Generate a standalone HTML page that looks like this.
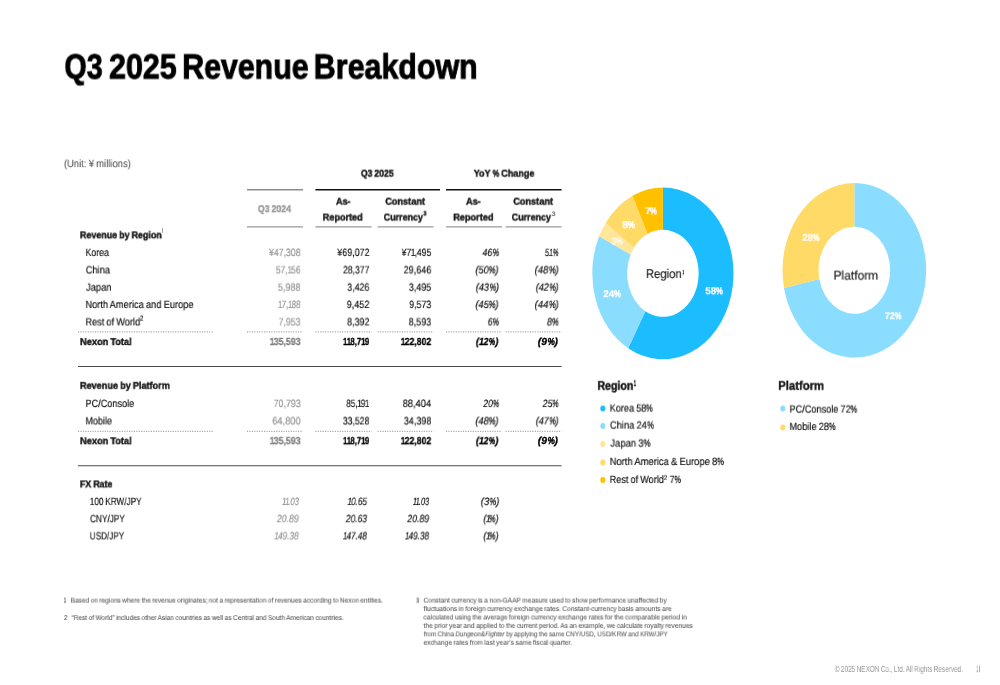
<!DOCTYPE html>
<html lang="en">
<head>
<meta charset="utf-8">
<title>Q3 2025 Revenue Breakdown</title>
<style>
html,body{margin:0;padding:0;background:#fff}
body{width:1000px;height:685px;position:relative;overflow:hidden;font-family:"Liberation Sans", sans-serif}
#slide{position:absolute;left:0;top:0;width:1000px;height:685px;background:#fff;overflow:hidden}
#slide>span{position:absolute;white-space:nowrap;transform-origin:0 0;display:block;will-change:transform;text-rendering:geometricPrecision;word-spacing:-0.05em}
#slide>span i{font-style:italic}
#slide>span .n{margin:0 -0.12em 0 -0.05em}
#slide>span .nb{margin:0 -0.09em 0 -0.02em}
#slide>span .nbi{margin:0 -0.06em 0 0.03em}
#slide>span .p{display:inline-block;transform:scaleX(0.8);transform-origin:0 50%;margin:0 -0.178em 0 -0.04em;-webkit-text-stroke-width:.3px}
#slide>span .pb{-webkit-text-stroke-width:.45px}
#gfx{position:absolute;left:0;top:0;display:block}
</style>
</head>
<body>
<div id="slide">
<svg id="gfx" width="1000" height="685" viewBox="0 0 1000 685" aria-hidden="true"><g transform="translate(662.9 273.35) scale(0.82141 1)"><path fill="#1cbdff" d="M0.000 -85.950A85.95 85.95 0 1 1 -42.261 74.843L-21.389 37.878A43.5 43.5 0 1 0 0.000 -43.500Z"/><path fill="#8addff" d="M-42.261 74.843A85.95 85.95 0 0 1 -77.576 -37.004L-39.262 -18.728A43.5 43.5 0 0 0 -21.389 37.878Z"/><path fill="#ffe699" d="M-77.576 -37.004A85.95 85.95 0 0 1 -69.632 -50.387L-35.241 -25.501A43.5 43.5 0 0 0 -39.262 -18.728Z"/><path fill="#ffda66" d="M-69.632 -50.387A85.95 85.95 0 0 1 -36.932 -77.611L-18.691 -39.280A43.5 43.5 0 0 0 -35.241 -25.501Z"/><path fill="#ffc000" d="M-36.932 -77.611A85.95 85.95 0 0 1 -0.000 -85.950L-0.000 -43.500A43.5 43.5 0 0 0 -18.691 -39.280Z"/></g><g transform="translate(854.35 270.3) scale(0.82245 1)"><path fill="#8addff" d="M0.000 -87.300A87.3 87.3 0 1 1 -85.496 17.658L-42.601 8.798A43.5 43.5 0 1 0 0.000 -43.500Z"/><path fill="#ffda66" d="M-85.496 17.658A87.3 87.3 0 0 1 -0.000 -87.300L-0.000 -43.500A43.5 43.5 0 0 0 -42.601 8.798Z"/></g><line x1="247.0" y1="189.7" x2="303.0" y2="189.7" stroke="#8c8c8c" stroke-width="1.5"/><line x1="315.4" y1="189.7" x2="440.0" y2="189.7" stroke="#111" stroke-width="1.5"/><line x1="446.0" y1="189.7" x2="561.6" y2="189.7" stroke="#111" stroke-width="1.5"/><line x1="247.0" y1="226.85" x2="303.0" y2="226.85" stroke="#999" stroke-width="1.2"/><line x1="315.4" y1="226.85" x2="371.6" y2="226.85" stroke="#999" stroke-width="1.2"/><line x1="377.6" y1="226.85" x2="433.6" y2="226.85" stroke="#999" stroke-width="1.2"/><line x1="446.0" y1="226.85" x2="502.0" y2="226.85" stroke="#999" stroke-width="1.2"/><line x1="505.6" y1="226.85" x2="561.6" y2="226.85" stroke="#999" stroke-width="1.2"/><line x1="78.0" y1="331.95" x2="213.0" y2="331.95" stroke="#a4a4a4" stroke-width="1.25" stroke-dasharray="1.1 1.33"/><line x1="247.0" y1="331.95" x2="303.0" y2="331.95" stroke="#a4a4a4" stroke-width="1.25" stroke-dasharray="1.1 1.33"/><line x1="315.4" y1="331.95" x2="371.6" y2="331.95" stroke="#a4a4a4" stroke-width="1.25" stroke-dasharray="1.1 1.33"/><line x1="377.6" y1="331.95" x2="433.6" y2="331.95" stroke="#a4a4a4" stroke-width="1.25" stroke-dasharray="1.1 1.33"/><line x1="446.0" y1="331.95" x2="502.0" y2="331.95" stroke="#a4a4a4" stroke-width="1.25" stroke-dasharray="1.1 1.33"/><line x1="505.6" y1="331.95" x2="561.6" y2="331.95" stroke="#a4a4a4" stroke-width="1.25" stroke-dasharray="1.1 1.33"/><line x1="78.0" y1="431.45" x2="213.0" y2="431.45" stroke="#a4a4a4" stroke-width="1.25" stroke-dasharray="1.1 1.33"/><line x1="247.0" y1="431.45" x2="303.0" y2="431.45" stroke="#a4a4a4" stroke-width="1.25" stroke-dasharray="1.1 1.33"/><line x1="315.4" y1="431.45" x2="371.6" y2="431.45" stroke="#a4a4a4" stroke-width="1.25" stroke-dasharray="1.1 1.33"/><line x1="377.6" y1="431.45" x2="433.6" y2="431.45" stroke="#a4a4a4" stroke-width="1.25" stroke-dasharray="1.1 1.33"/><line x1="446.0" y1="431.45" x2="502.0" y2="431.45" stroke="#a4a4a4" stroke-width="1.25" stroke-dasharray="1.1 1.33"/><line x1="505.6" y1="431.45" x2="561.6" y2="431.45" stroke="#a4a4a4" stroke-width="1.25" stroke-dasharray="1.1 1.33"/><line x1="78.0" y1="366.55" x2="561.6" y2="366.55" stroke="#4a4a4a" stroke-width="1.1"/><line x1="78.0" y1="465.7" x2="561.6" y2="465.7" stroke="#4a4a4a" stroke-width="1.1"/><ellipse cx="602.8" cy="408.4" rx="2.5" ry="3.0" fill="#1cbdff"/><ellipse cx="602.8" cy="425.9" rx="2.5" ry="3.0" fill="#8addff"/><ellipse cx="602.8" cy="444.1" rx="2.5" ry="3.0" fill="#ffe699"/><ellipse cx="602.8" cy="462.4" rx="2.5" ry="3.0" fill="#ffda66"/><ellipse cx="602.8" cy="480.0" rx="2.5" ry="3.0" fill="#ffc000"/><ellipse cx="782.8" cy="408.4" rx="2.5" ry="3.0" fill="#8addff"/><ellipse cx="782.8" cy="427.4" rx="2.5" ry="3.0" fill="#ffda66"/></svg>

<span style="left:64px;top:50px;font-size:34.9px;line-height:34.9px;color:#000;font-weight:700;-webkit-text-stroke:0.9px #000;text-indent:0.59px;transform:translate3d(0,0.46px,0) scaleX(0.8201)">Q3</span>
<span style="left:109px;top:50px;font-size:34.9px;line-height:34.9px;color:#000;font-weight:700;-webkit-text-stroke:0.9px #000;text-indent:0.05px;transform:translate3d(0,0.46px,0) scaleX(0.8721)">2025</span>
<span style="left:182px;top:50px;font-size:34.9px;line-height:34.9px;color:#000;font-weight:700;-webkit-text-stroke:0.9px #000;text-indent:0.19px;transform:translate3d(0,0.46px,0) scaleX(0.8694)">Revenue</span>
<span style="left:313px;top:50px;font-size:34.9px;line-height:34.9px;color:#000;font-weight:700;-webkit-text-stroke:0.9px #000;text-indent:0.87px;transform:translate3d(0,0.46px,0) scaleX(0.8722)">Breakdown</span>
<span style="left:63px;top:159px;font-size:10.6px;line-height:10.6px;color:#505050;-webkit-text-stroke:0.06px #505050;text-indent:0.93px;transform:translate3d(0,0.10px,0) scaleX(0.8952)">(Unit: ¥ millions)</span>
<span style="left:257px;top:205px;font-size:9.9px;line-height:9.9px;color:#999;font-weight:700;-webkit-text-stroke:0.4px #999;text-indent:1.11px;transform:translate3d(0,0.07px,0) scaleX(0.8832)">Q3 2024</span>
<span style="left:360px;top:169px;font-size:9.9px;line-height:9.9px;color:#111;font-weight:700;-webkit-text-stroke:0.4px #111;text-indent:0.88px;transform:translate3d(0,0.57px,0) scaleX(0.8811)">Q3 2025</span>
<span style="left:473px;top:169px;font-size:9.9px;line-height:9.9px;color:#111;font-weight:700;-webkit-text-stroke:0.4px #111;text-indent:0.66px;transform:translate3d(0,0.57px,0) scaleX(0.9160)">YoY <span class="p pb">%</span> Change</span>
<span style="left:336px;top:197px;font-size:9.9px;line-height:9.9px;color:#111;font-weight:700;-webkit-text-stroke:0.4px #111;text-indent:0.00px;transform:translate3d(0,0.57px,0) scaleX(0.9143)">As-</span>
<span style="left:322px;top:213px;font-size:9.9px;line-height:9.9px;color:#111;font-weight:700;-webkit-text-stroke:0.4px #111;text-indent:0.80px;transform:translate3d(0,0.47px,0) scaleX(0.9224)">Reported</span>
<span style="left:385px;top:197px;font-size:9.9px;line-height:9.9px;color:#111;font-weight:700;-webkit-text-stroke:0.4px #111;text-indent:0.18px;transform:translate3d(0,0.57px,0) scaleX(0.9318)">Constant</span>
<span style="left:383px;top:213px;font-size:9.9px;line-height:9.9px;color:#111;font-weight:700;-webkit-text-stroke:0.4px #111;text-indent:0.86px;transform:translate3d(0,0.47px,0) scaleX(0.9017)">Currency</span>
<span style="left:423px;top:211px;font-size:6.3px;line-height:6.3px;color:#111;font-weight:700;-webkit-text-stroke:0.4px #111;text-indent:0.58px;transform:translate3d(0,0.38px,0) scaleX(0.8571)">3</span>
<span style="left:466px;top:197px;font-size:9.9px;line-height:9.9px;color:#111;font-weight:700;-webkit-text-stroke:0.4px #111;text-indent:0.00px;transform:translate3d(0,0.57px,0) scaleX(0.9270)">As-</span>
<span style="left:453px;top:213px;font-size:9.9px;line-height:9.9px;color:#111;font-weight:700;-webkit-text-stroke:0.4px #111;text-indent:0.14px;transform:translate3d(0,0.47px,0) scaleX(0.9318)">Reported</span>
<span style="left:513px;top:197px;font-size:9.9px;line-height:9.9px;color:#111;font-weight:700;-webkit-text-stroke:0.4px #111;text-indent:0.18px;transform:translate3d(0,0.57px,0) scaleX(0.9318)">Constant</span>
<span style="left:511px;top:213px;font-size:9.9px;line-height:9.9px;color:#111;font-weight:700;-webkit-text-stroke:0.4px #111;text-indent:0.86px;transform:translate3d(0,0.47px,0) scaleX(0.9017)">Currency</span>
<span style="left:551px;top:211px;font-size:6.3px;line-height:6.3px;color:#666;-webkit-text-stroke:0.18px #666;text-indent:0.69px;transform:translate3d(0,0.60px,0) scaleX(1.0667)">3</span>
<span style="left:79px;top:231px;font-size:9.9px;line-height:9.9px;color:#111;font-weight:700;-webkit-text-stroke:0.4px #111;text-indent:1.05px;transform:translate3d(0,0.27px,0) scaleX(0.9025)">Revenue by Region</span>
<span style="left:162px;top:228px;font-size:6.4px;line-height:6.4px;color:#777;-webkit-text-stroke:0.18px #777;text-indent:0.00px;transform:translate3d(0,0.70px,0) scaleX(0.3667)"><span class="n">1</span></span>
<span style="left:85px;top:248px;font-size:10.5px;line-height:10.5px;color:#161616;-webkit-text-stroke:0.18px #161616;text-indent:0.44px;transform:translate3d(0,0.00px,0) scaleX(0.8436)">Korea</span>
<span style="left:85px;top:265px;font-size:10.5px;line-height:10.5px;color:#161616;-webkit-text-stroke:0.18px #161616;text-indent:0.63px;transform:translate3d(0,0.40px,0) scaleX(0.8889)">China</span>
<span style="left:86px;top:282px;font-size:10.5px;line-height:10.5px;color:#161616;-webkit-text-stroke:0.18px #161616;text-indent:0.00px;transform:translate3d(0,0.70px,0) scaleX(0.8929)">Japan</span>
<span style="left:85px;top:300px;font-size:10.5px;line-height:10.5px;color:#161616;-webkit-text-stroke:0.18px #161616;text-indent:0.38px;transform:translate3d(0,0.00px,0) scaleX(0.8860)">North America and Europe</span>
<span style="left:85px;top:317px;font-size:10.5px;line-height:10.5px;color:#161616;-webkit-text-stroke:0.18px #161616;text-indent:0.39px;transform:translate3d(0,0.40px,0) scaleX(0.8787)">Rest of World</span>
<span style="left:139px;top:314px;font-size:7.6px;line-height:7.6px;color:#161616;-webkit-text-stroke:0.18px #161616;text-indent:1.13px;transform:translate3d(0,0.70px,0) scaleX(0.8000)">2</span>
<span style="left:80px;top:337px;font-size:9.9px;line-height:9.9px;color:#111;font-weight:700;-webkit-text-stroke:0.4px #111;text-indent:0.04px;transform:translate3d(0,0.97px,0) scaleX(0.9346)">Nexon Total</span>
<span style="left:79px;top:381px;font-size:9.9px;line-height:9.9px;color:#111;font-weight:700;-webkit-text-stroke:0.4px #111;text-indent:1.01px;transform:translate3d(0,0.77px,0) scaleX(0.9247)">Revenue by Platform</span>
<span style="left:85px;top:399px;font-size:10.5px;line-height:10.5px;color:#161616;-webkit-text-stroke:0.18px #161616;text-indent:0.40px;transform:translate3d(0,0.00px,0) scaleX(0.8727)">PC/Console</span>
<span style="left:85px;top:416px;font-size:10.5px;line-height:10.5px;color:#161616;-webkit-text-stroke:0.18px #161616;text-indent:0.41px;transform:translate3d(0,0.40px,0) scaleX(0.8605)">Mobile</span>
<span style="left:80px;top:437px;font-size:9.9px;line-height:9.9px;color:#111;font-weight:700;-webkit-text-stroke:0.4px #111;text-indent:0.04px;transform:translate3d(0,0.17px,0) scaleX(0.9346)">Nexon Total</span>
<span style="left:79px;top:480px;font-size:9.9px;line-height:9.9px;color:#111;font-weight:700;-webkit-text-stroke:0.4px #111;text-indent:1.06px;transform:translate3d(0,0.37px,0) scaleX(0.8958)">FX Rate</span>
<span style="left:89px;top:497px;font-size:10.5px;line-height:10.5px;color:#161616;-webkit-text-stroke:0.18px #161616;text-indent:1.05px;transform:translate3d(0,0.00px,0) scaleX(0.7786)">100 KRW/JPY</span>
<span style="left:90px;top:514px;font-size:10.5px;line-height:10.5px;color:#161616;-webkit-text-stroke:0.18px #161616;text-indent:0.01px;transform:translate3d(0,0.20px,0) scaleX(0.7863)">CNY/JPY</span>
<span style="left:89px;top:531px;font-size:10.5px;line-height:10.5px;color:#161616;-webkit-text-stroke:0.18px #161616;text-indent:1.06px;transform:translate3d(0,0.40px,0) scaleX(0.7724)">USD/JPY</span>
<span style="left:269px;top:248px;font-size:10.6px;line-height:10.6px;color:#949494;-webkit-text-stroke:0.18px #949494;text-indent:0.00px;transform:translate3d(0,0.00px,0) scaleX(0.8237)">¥47,308</span>
<span style="left:337px;top:248px;font-size:10.6px;line-height:10.6px;color:#161616;-webkit-text-stroke:0.18px #161616;text-indent:0.36px;transform:translate3d(0,0.00px,0) scaleX(0.8424)">¥69,072</span>
<span style="left:401px;top:248px;font-size:10.6px;line-height:10.6px;color:#161616;-webkit-text-stroke:0.18px #161616;text-indent:0.74px;transform:translate3d(0,0.00px,0) scaleX(0.8110)">¥7<span class="n">1</span>,495</span>
<span style="left:482px;top:248px;font-size:10.6px;line-height:10.6px;color:#161616;font-style:italic;-webkit-text-stroke:0.18px #161616;text-indent:0.47px;transform:translate3d(0,0.01px,0) scaleX(0.8548)">46<span class="p">%</span></span>
<span style="left:544px;top:248px;font-size:10.6px;line-height:10.6px;color:#161616;font-style:italic;-webkit-text-stroke:0.18px #161616;text-indent:1.10px;transform:translate3d(0,0.01px,0) scaleX(0.7412)">5<span class="n">1</span><span class="p">%</span></span>
<span style="left:275px;top:265px;font-size:10.6px;line-height:10.6px;color:#949494;-webkit-text-stroke:0.18px #949494;text-indent:0.98px;transform:translate3d(0,0.40px,0) scaleX(0.8100)">57,<span class="n">1</span>56</span>
<span style="left:342px;top:265px;font-size:10.6px;line-height:10.6px;color:#161616;-webkit-text-stroke:0.18px #161616;text-indent:1.22px;transform:translate3d(0,0.40px,0) scaleX(0.8159)">28,377</span>
<span style="left:403px;top:265px;font-size:10.6px;line-height:10.6px;color:#161616;-webkit-text-stroke:0.18px #161616;text-indent:0.67px;transform:translate3d(0,0.40px,0) scaleX(0.8571)">29,646</span>
<span style="left:475px;top:265px;font-size:10.6px;line-height:10.6px;color:#161616;font-style:italic;-webkit-text-stroke:0.18px #161616;text-indent:0.17px;transform:translate3d(0,0.41px,0) scaleX(0.8960)">(50<span class="p">%</span>)</span>
<span style="left:534px;top:265px;font-size:10.6px;line-height:10.6px;color:#161616;font-style:italic;-webkit-text-stroke:0.18px #161616;text-indent:0.61px;transform:translate3d(0,0.41px,0) scaleX(0.9040)">(48<span class="p">%</span>)</span>
<span style="left:277px;top:282px;font-size:10.6px;line-height:10.6px;color:#949494;-webkit-text-stroke:0.18px #949494;text-indent:0.92px;transform:translate3d(0,0.70px,0) scaleX(0.8577)">5,988</span>
<span style="left:347px;top:282px;font-size:10.6px;line-height:10.6px;color:#161616;-webkit-text-stroke:0.18px #161616;text-indent:0.35px;transform:translate3d(0,0.70px,0) scaleX(0.8308)">3,426</span>
<span style="left:408px;top:282px;font-size:10.6px;line-height:10.6px;color:#161616;-webkit-text-stroke:0.18px #161616;text-indent:0.93px;transform:translate3d(0,0.70px,0) scaleX(0.8462)">3,495</span>
<span style="left:475px;top:282px;font-size:10.6px;line-height:10.6px;color:#161616;font-style:italic;-webkit-text-stroke:0.18px #161616;text-indent:0.64px;transform:translate3d(0,0.71px,0) scaleX(0.8800)">(43<span class="p">%</span>)</span>
<span style="left:535px;top:282px;font-size:10.6px;line-height:10.6px;color:#161616;font-style:italic;-webkit-text-stroke:0.18px #161616;text-indent:0.66px;transform:translate3d(0,0.71px,0) scaleX(0.8640)">(42<span class="p">%</span>)</span>
<span style="left:278px;top:300px;font-size:10.6px;line-height:10.6px;color:#949494;-webkit-text-stroke:0.18px #949494;text-indent:0.53px;transform:translate3d(0,0.00px,0) scaleX(0.7681)"><span class="n">1</span>7,<span class="n">1</span>88</span>
<span style="left:346px;top:300px;font-size:10.6px;line-height:10.6px;color:#161616;-webkit-text-stroke:0.18px #161616;text-indent:0.65px;transform:translate3d(0,0.00px,0) scaleX(0.8667)">9,452</span>
<span style="left:409px;top:300px;font-size:10.6px;line-height:10.6px;color:#161616;-webkit-text-stroke:0.18px #161616;text-indent:0.22px;transform:translate3d(0,0.00px,0) scaleX(0.8311)">9,573</span>
<span style="left:475px;top:300px;font-size:10.6px;line-height:10.6px;color:#161616;font-style:italic;-webkit-text-stroke:0.18px #161616;text-indent:0.17px;transform:translate3d(0,0.01px,0) scaleX(0.8960)">(45<span class="p">%</span>)</span>
<span style="left:534px;top:300px;font-size:10.6px;line-height:10.6px;color:#161616;font-style:italic;-webkit-text-stroke:0.18px #161616;text-indent:0.61px;transform:translate3d(0,0.01px,0) scaleX(0.9040)">(44<span class="p">%</span>)</span>
<span style="left:278px;top:317px;font-size:10.6px;line-height:10.6px;color:#949494;-webkit-text-stroke:0.18px #949494;text-indent:0.71px;transform:translate3d(0,0.40px,0) scaleX(0.8272)">7,953</span>
<span style="left:346px;top:317px;font-size:10.6px;line-height:10.6px;color:#161616;-webkit-text-stroke:0.18px #161616;text-indent:1.15px;transform:translate3d(0,0.40px,0) scaleX(0.8510)">8,392</span>
<span style="left:408px;top:317px;font-size:10.6px;line-height:10.6px;color:#161616;-webkit-text-stroke:0.18px #161616;text-indent:0.67px;transform:translate3d(0,0.40px,0) scaleX(0.8544)">8,593</span>
<span style="left:487px;top:317px;font-size:10.6px;line-height:10.6px;color:#161616;font-style:italic;-webkit-text-stroke:0.18px #161616;text-indent:0.68px;transform:translate3d(0,0.41px,0) scaleX(0.8511)">6<span class="p">%</span></span>
<span style="left:546px;top:317px;font-size:10.6px;line-height:10.6px;color:#161616;font-style:italic;-webkit-text-stroke:0.18px #161616;text-indent:0.88px;transform:translate3d(0,0.41px,0) scaleX(0.8833)">8<span class="p">%</span></span>
<span style="left:273px;top:399px;font-size:10.6px;line-height:10.6px;color:#949494;-webkit-text-stroke:0.18px #949494;text-indent:0.70px;transform:translate3d(0,0.00px,0) scaleX(0.8349)">70,793</span>
<span style="left:346px;top:399px;font-size:10.6px;line-height:10.6px;color:#161616;-webkit-text-stroke:0.18px #161616;text-indent:0.28px;transform:translate3d(0,0.00px,0) scaleX(0.7692)">85,<span class="n">1</span>9<span class="n">1</span></span>
<span style="left:402px;top:399px;font-size:10.6px;line-height:10.6px;color:#161616;-webkit-text-stroke:0.18px #161616;text-indent:0.63px;transform:translate3d(0,0.00px,0) scaleX(0.8819)">88,404</span>
<span style="left:483px;top:399px;font-size:10.6px;line-height:10.6px;color:#161616;font-style:italic;-webkit-text-stroke:0.18px #161616;text-indent:0.25px;transform:translate3d(0,0.01px,0) scaleX(0.8108)">20<span class="p">%</span></span>
<span style="left:542px;top:399px;font-size:10.6px;line-height:10.6px;color:#161616;font-style:italic;-webkit-text-stroke:0.18px #161616;text-indent:0.74px;transform:translate3d(0,0.01px,0) scaleX(0.8216)">25<span class="p">%</span></span>
<span style="left:272px;top:416px;font-size:10.6px;line-height:10.6px;color:#949494;-webkit-text-stroke:0.18px #949494;text-indent:0.18px;transform:translate3d(0,0.40px,0) scaleX(0.8794)">64,800</span>
<span style="left:342px;top:416px;font-size:10.6px;line-height:10.6px;color:#161616;-webkit-text-stroke:0.18px #161616;text-indent:0.97px;transform:translate3d(0,0.40px,0) scaleX(0.8220)">33,528</span>
<span style="left:403px;top:416px;font-size:10.6px;line-height:10.6px;color:#161616;-webkit-text-stroke:0.18px #161616;text-indent:0.93px;transform:translate3d(0,0.40px,0) scaleX(0.8504)">34,398</span>
<span style="left:475px;top:416px;font-size:10.6px;line-height:10.6px;color:#161616;font-style:italic;-webkit-text-stroke:0.18px #161616;text-indent:0.17px;transform:translate3d(0,0.41px,0) scaleX(0.8960)">(48<span class="p">%</span>)</span>
<span style="left:535px;top:416px;font-size:10.6px;line-height:10.6px;color:#161616;font-style:italic;-webkit-text-stroke:0.18px #161616;text-indent:0.66px;transform:translate3d(0,0.41px,0) scaleX(0.8640)">(47<span class="p">%</span>)</span>
<span style="left:269px;top:337px;font-size:10.3px;line-height:10.3px;color:#828282;font-weight:700;-webkit-text-stroke:0.3px #828282;text-indent:0.92px;transform:translate3d(0,0.95px,0) scaleX(0.8535)"><span class="nb">1</span>35,593</span>
<span style="left:343px;top:337px;font-size:10.3px;line-height:10.3px;color:#000;font-weight:700;-webkit-text-stroke:0.3px #000;text-indent:0.27px;transform:translate3d(0,0.95px,0) scaleX(0.7672)"><span class="nb">1</span><span class="nb">1</span>8,7<span class="nb">1</span>9</span>
<span style="left:400px;top:337px;font-size:10.3px;line-height:10.3px;color:#000;font-weight:700;-webkit-text-stroke:0.3px #000;text-indent:0.93px;transform:translate3d(0,0.95px,0) scaleX(0.8451)"><span class="nb">1</span>22,802</span>
<span style="left:475px;top:337px;font-size:10.3px;line-height:10.3px;color:#000;font-weight:700;font-style:italic;-webkit-text-stroke:0.28px #000;text-indent:0.89px;transform:translate3d(0,0.95px,0) scaleX(0.8735)">(<span class="nbi">1</span>2<span class="p pb">%</span>)</span>
<span style="left:537px;top:337px;font-size:10.3px;line-height:10.3px;color:#000;font-weight:700;font-style:italic;-webkit-text-stroke:0.28px #000;text-indent:0.75px;transform:translate3d(0,0.95px,0) scaleX(1.0000)">(9<span class="p pb">%</span>)</span>
<span style="left:269px;top:437px;font-size:10.3px;line-height:10.3px;color:#828282;font-weight:700;-webkit-text-stroke:0.3px #828282;text-indent:0.92px;transform:translate3d(0,0.15px,0) scaleX(0.8535)"><span class="nb">1</span>35,593</span>
<span style="left:343px;top:437px;font-size:10.3px;line-height:10.3px;color:#000;font-weight:700;-webkit-text-stroke:0.3px #000;text-indent:0.27px;transform:translate3d(0,0.15px,0) scaleX(0.7672)"><span class="nb">1</span><span class="nb">1</span>8,7<span class="nb">1</span>9</span>
<span style="left:400px;top:437px;font-size:10.3px;line-height:10.3px;color:#000;font-weight:700;-webkit-text-stroke:0.3px #000;text-indent:0.93px;transform:translate3d(0,0.15px,0) scaleX(0.8451)"><span class="nb">1</span>22,802</span>
<span style="left:475px;top:437px;font-size:10.3px;line-height:10.3px;color:#000;font-weight:700;font-style:italic;-webkit-text-stroke:0.28px #000;text-indent:0.89px;transform:translate3d(0,0.15px,0) scaleX(0.8735)">(<span class="nbi">1</span>2<span class="p pb">%</span>)</span>
<span style="left:537px;top:437px;font-size:10.3px;line-height:10.3px;color:#000;font-weight:700;font-style:italic;-webkit-text-stroke:0.28px #000;text-indent:0.75px;transform:translate3d(0,0.15px,0) scaleX(1.0000)">(9<span class="p pb">%</span>)</span>
<span style="left:282px;top:497px;font-size:10.6px;line-height:10.6px;color:#949494;font-style:italic;-webkit-text-stroke:0.18px #949494;text-indent:0.82px;transform:translate3d(0,0.01px,0) scaleX(0.7054)"><span class="n">1</span><span class="n">1</span>.03</span>
<span style="left:347px;top:497px;font-size:10.6px;line-height:10.6px;color:#161616;font-style:italic;-webkit-text-stroke:0.18px #161616;text-indent:1.02px;transform:translate3d(0,0.01px,0) scaleX(0.7760)"><span class="n">1</span>0.65</span>
<span style="left:413px;top:497px;font-size:10.6px;line-height:10.6px;color:#161616;font-style:italic;-webkit-text-stroke:0.18px #161616;text-indent:0.25px;transform:translate3d(0,0.01px,0) scaleX(0.6968)"><span class="n">1</span><span class="n">1</span>.03</span>
<span style="left:480px;top:497px;font-size:10.6px;line-height:10.6px;color:#161616;font-style:italic;-webkit-text-stroke:0.18px #161616;text-indent:0.86px;transform:translate3d(0,0.01px,0) scaleX(0.8842)">(3<span class="p">%</span>)</span>
<span style="left:276px;top:514px;font-size:10.6px;line-height:10.6px;color:#949494;font-style:italic;-webkit-text-stroke:0.18px #949494;text-indent:0.97px;transform:translate3d(0,0.21px,0) scaleX(0.8299)">20.89</span>
<span style="left:345px;top:514px;font-size:10.6px;line-height:10.6px;color:#161616;font-style:italic;-webkit-text-stroke:0.18px #161616;text-indent:1.00px;transform:translate3d(0,0.21px,0) scaleX(0.8000)">20.63</span>
<span style="left:407px;top:514px;font-size:10.6px;line-height:10.6px;color:#161616;font-style:italic;-webkit-text-stroke:0.18px #161616;text-indent:0.25px;transform:translate3d(0,0.21px,0) scaleX(0.8299)">20.89</span>
<span style="left:483px;top:514px;font-size:10.6px;line-height:10.6px;color:#161616;font-style:italic;-webkit-text-stroke:0.18px #161616;text-indent:0.22px;transform:translate3d(0,0.21px,0) scaleX(0.8348)">(<span class="n">1</span><span class="p">%</span>)</span>
<span style="left:274px;top:531px;font-size:10.6px;line-height:10.6px;color:#949494;font-style:italic;-webkit-text-stroke:0.18px #949494;text-indent:0.76px;transform:translate3d(0,0.41px,0) scaleX(0.7871)"><span class="n">1</span>49.38</span>
<span style="left:343px;top:531px;font-size:10.6px;line-height:10.6px;color:#161616;font-style:italic;-webkit-text-stroke:0.18px #161616;text-indent:0.25px;transform:translate3d(0,0.41px,0) scaleX(0.7742)"><span class="n">1</span>47.48</span>
<span style="left:405px;top:531px;font-size:10.6px;line-height:10.6px;color:#161616;font-style:italic;-webkit-text-stroke:0.18px #161616;text-indent:0.25px;transform:translate3d(0,0.41px,0) scaleX(0.7806)"><span class="n">1</span>49.38</span>
<span style="left:483px;top:531px;font-size:10.6px;line-height:10.6px;color:#161616;font-style:italic;-webkit-text-stroke:0.18px #161616;text-indent:0.22px;transform:translate3d(0,0.41px,0) scaleX(0.8348)">(<span class="n">1</span><span class="p">%</span>)</span>
<span style="left:64px;top:598px;font-size:6.9px;line-height:6.9px;color:#585858;-webkit-text-stroke:0.3px #585858;text-indent:0.38px;transform:translate3d(0,0.38px,0) scaleX(0.5231)"><span class="n">1</span></span>
<span style="left:70px;top:598px;font-size:6.9px;line-height:6.9px;color:#585858;-webkit-text-stroke:0.08px #585858;text-indent:0.55px;transform:translate3d(0,0.60px,0) scaleX(0.9487)">Based on regions where the revenue originates; not a representation of revenues according to Nexon entities.</span>
<span style="left:64px;top:616px;font-size:6.9px;line-height:6.9px;color:#585858;-webkit-text-stroke:0.2px #585858;text-indent:0.10px;transform:translate3d(0,0.00px,0) scaleX(0.8615)">2</span>
<span style="left:71px;top:616px;font-size:6.9px;line-height:6.9px;color:#585858;-webkit-text-stroke:0.08px #585858;text-indent:0.38px;transform:translate3d(0,0.00px,0) scaleX(0.9490)">“Rest of World” includes other Asian countries as well as Central and South American countries.</span>
<span style="left:416px;top:598px;font-size:6.9px;line-height:6.9px;color:#585858;-webkit-text-stroke:0.2px #585858;text-indent:0.13px;transform:translate3d(0,0.60px,0) scaleX(0.8000)">3</span>
<span style="left:423px;top:598px;font-size:6.9px;line-height:6.9px;color:#585858;-webkit-text-stroke:0.08px #585858;text-indent:0.38px;transform:translate3d(0,0.60px,0) scaleX(0.9558)">Constant currency is a non-GAAP measure used to show performance unaffected by</span>
<span style="left:423px;top:607px;font-size:6.9px;line-height:6.9px;color:#585858;-webkit-text-stroke:0.08px #585858;text-indent:0.62px;transform:translate3d(0,0.04px,0) scaleX(0.9623)">fluctuations in foreign currency exchange rates. Constant-currency basis amounts are</span>
<span style="left:423px;top:615px;font-size:6.9px;line-height:6.9px;color:#585858;-webkit-text-stroke:0.08px #585858;text-indent:0.37px;transform:translate3d(0,0.48px,0) scaleX(0.9697)">calculated using the average foreign currency exchange rates for the comparable period in</span>
<span style="left:423px;top:623px;font-size:6.9px;line-height:6.9px;color:#585858;-webkit-text-stroke:0.08px #585858;text-indent:0.62px;transform:translate3d(0,0.92px,0) scaleX(0.9617)">the prior year and applied to the current period. As an example, we calculate royalty revenues</span>
<span style="left:423px;top:632px;font-size:6.9px;line-height:6.9px;color:#585858;-webkit-text-stroke:0.08px #585858;text-indent:0.66px;transform:translate3d(0,0.36px,0) scaleX(0.9104)">from China <i>Dungeon&amp;Fighter</i> by applying the same CNY/USD, USD/KRW and KRW/JPY</span>
<span style="left:423px;top:640px;font-size:6.9px;line-height:6.9px;color:#585858;-webkit-text-stroke:0.08px #585858;text-indent:0.38px;transform:translate3d(0,0.80px,0) scaleX(0.9582)">exchange rates from last year’s same fiscal quarter.</span>
<span style="left:834px;top:664px;font-size:8.8px;line-height:8.8px;color:#969696;text-indent:1.13px;transform:translate3d(0,1.00px,0) scaleX(0.7259)">© 2025 NEXON Co., Ltd. All Rights Reserved.</span>
<span style="left:976px;top:664px;font-size:8.8px;line-height:8.8px;color:#8a8a8a;-webkit-text-stroke:0.25px #8a8a8a;text-indent:0.93px;transform:translate3d(0,0.55px,0) scaleX(0.3500)">1</span>
<span style="left:978px;top:664px;font-size:8.8px;line-height:8.8px;color:#8a8a8a;-webkit-text-stroke:0.25px #8a8a8a;text-indent:1.50px;transform:translate3d(0,0.55px,0) scaleX(0.3500)">1</span>
<span style="left:705px;top:287px;font-size:9.9px;line-height:9.9px;color:#fff;font-weight:700;-webkit-text-stroke:0.15px #fff;text-indent:0.15px;transform:translate3d(0,0.16px,0) scaleX(0.9915)">58<span class="p pb">%</span></span>
<span style="left:603px;top:290px;font-size:9.9px;line-height:9.9px;color:#fff;font-weight:700;-webkit-text-stroke:0.15px #fff;text-indent:0.15px;transform:translate3d(0,0.16px,0) scaleX(0.9915)">24<span class="p pb">%</span></span>
<span style="left:611px;top:237px;font-size:9.9px;line-height:9.9px;color:#fff;font-weight:700;-webkit-text-stroke:0.15px #fff;text-indent:0.37px;transform:translate3d(0,0.56px,0) scaleX(0.9702);opacity:0.75">3<span class="p pb">%</span></span>
<span style="left:622px;top:221px;font-size:9.9px;line-height:9.9px;color:#fff;font-weight:700;-webkit-text-stroke:0.15px #fff;text-indent:0.32px;transform:translate3d(0,0.16px,0) scaleX(1.0553)">8<span class="p pb">%</span></span>
<span style="left:645px;top:207px;font-size:9.9px;line-height:9.9px;color:#fff;font-weight:700;-webkit-text-stroke:0.15px #fff;text-indent:0.16px;transform:translate3d(0,0.16px,0) scaleX(0.9872)">7<span class="p pb">%</span></span>
<span style="left:802px;top:233px;font-size:9.9px;line-height:9.9px;color:#fff;font-weight:700;-webkit-text-stroke:0.15px #fff;text-indent:0.17px;transform:translate3d(0,0.76px,0) scaleX(0.9577)">28<span class="p pb">%</span></span>
<span style="left:884px;top:312px;font-size:9.9px;line-height:9.9px;color:#fff;font-weight:700;-webkit-text-stroke:0.15px #fff;text-indent:0.83px;transform:translate3d(0,0.16px,0) scaleX(0.9239)">72<span class="p pb">%</span></span>
<span style="left:645px;top:268px;font-size:12.6px;line-height:12.6px;color:#222;-webkit-text-stroke:0.18px #222;text-indent:0.88px;transform:translate3d(0,0.00px,0) scaleX(0.9020)">Region</span>
<span style="left:682px;top:271px;font-size:5.8px;line-height:5.8px;color:#222;-webkit-text-stroke:0.3px #222;text-indent:0.92px;transform:translate3d(0,0.21px,0) scaleX(0.5455)"><span class="n">1</span></span>
<span style="left:833px;top:269px;font-size:12.6px;line-height:12.6px;color:#222;-webkit-text-stroke:0.18px #222;text-indent:0.47px;transform:translate3d(0,0.60px,0) scaleX(0.9547)">Platform</span>
<span style="left:597px;top:379px;font-size:12.4px;line-height:12.4px;color:#111;font-weight:700;-webkit-text-stroke:0.4px #111;text-indent:0.41px;transform:translate3d(0,0.75px,0) scaleX(0.8589)">Region</span>
<span style="left:633px;top:379px;font-size:8.0px;line-height:8.0px;color:#111;font-weight:700;-webkit-text-stroke:0.4px #111;text-indent:1.75px;transform:translate3d(0,0.76px,0) scaleX(0.5000)"><span class="nb">1</span></span>
<span style="left:778px;top:379px;font-size:12.4px;line-height:12.4px;color:#111;font-weight:700;-webkit-text-stroke:0.4px #111;text-indent:0.35px;transform:translate3d(0,0.75px,0) scaleX(0.9102)">Platform</span>
<span style="left:609px;top:403px;font-size:10.5px;line-height:10.5px;color:#161616;-webkit-text-stroke:0.18px #161616;text-indent:0.74px;transform:translate3d(0,0.60px,0) scaleX(0.8722)">Korea 58<span class="p">%</span></span>
<span style="left:609px;top:420px;font-size:10.5px;line-height:10.5px;color:#161616;-webkit-text-stroke:0.18px #161616;text-indent:0.95px;transform:translate3d(0,0.60px,0) scaleX(0.8942)">China 24<span class="p">%</span></span>
<span style="left:610px;top:438px;font-size:10.5px;line-height:10.5px;color:#161616;-webkit-text-stroke:0.18px #161616;text-indent:0.33px;transform:translate3d(0,0.60px,0) scaleX(0.9040)">Japan 3<span class="p">%</span></span>
<span style="left:609px;top:457px;font-size:10.5px;line-height:10.5px;color:#161616;-webkit-text-stroke:0.18px #161616;text-indent:0.70px;transform:translate3d(0,0.00px,0) scaleX(0.8980)">North America &amp; Europe 8<span class="p">%</span></span>
<span style="left:609px;top:475px;font-size:10.5px;line-height:10.5px;color:#161616;-webkit-text-stroke:0.18px #161616;text-indent:0.75px;transform:translate3d(0,0.00px,0) scaleX(0.8689)">Rest of World</span>
<span style="left:663px;top:475px;font-size:6.4px;line-height:6.4px;color:#161616;-webkit-text-stroke:0.18px #161616;text-indent:0.78px;transform:translate3d(0,0.70px,0) scaleX(0.9667)">2</span>
<span style="left:669px;top:475px;font-size:10.5px;line-height:10.5px;color:#161616;-webkit-text-stroke:0.18px #161616;text-indent:0.67px;transform:translate3d(0,0.00px,0) scaleX(0.8511)">7<span class="p">%</span></span>
<span style="left:789px;top:404px;font-size:10.5px;line-height:10.5px;color:#161616;-webkit-text-stroke:0.18px #161616;text-indent:0.39px;transform:translate3d(0,0.60px,0) scaleX(0.8758)">PC/Console 72<span class="p">%</span></span>
<span style="left:789px;top:422px;font-size:10.5px;line-height:10.5px;color:#161616;-webkit-text-stroke:0.18px #161616;text-indent:0.38px;transform:translate3d(0,0.00px,0) scaleX(0.8816)">Mobile 28<span class="p">%</span></span>
</div>
</body>
</html>
